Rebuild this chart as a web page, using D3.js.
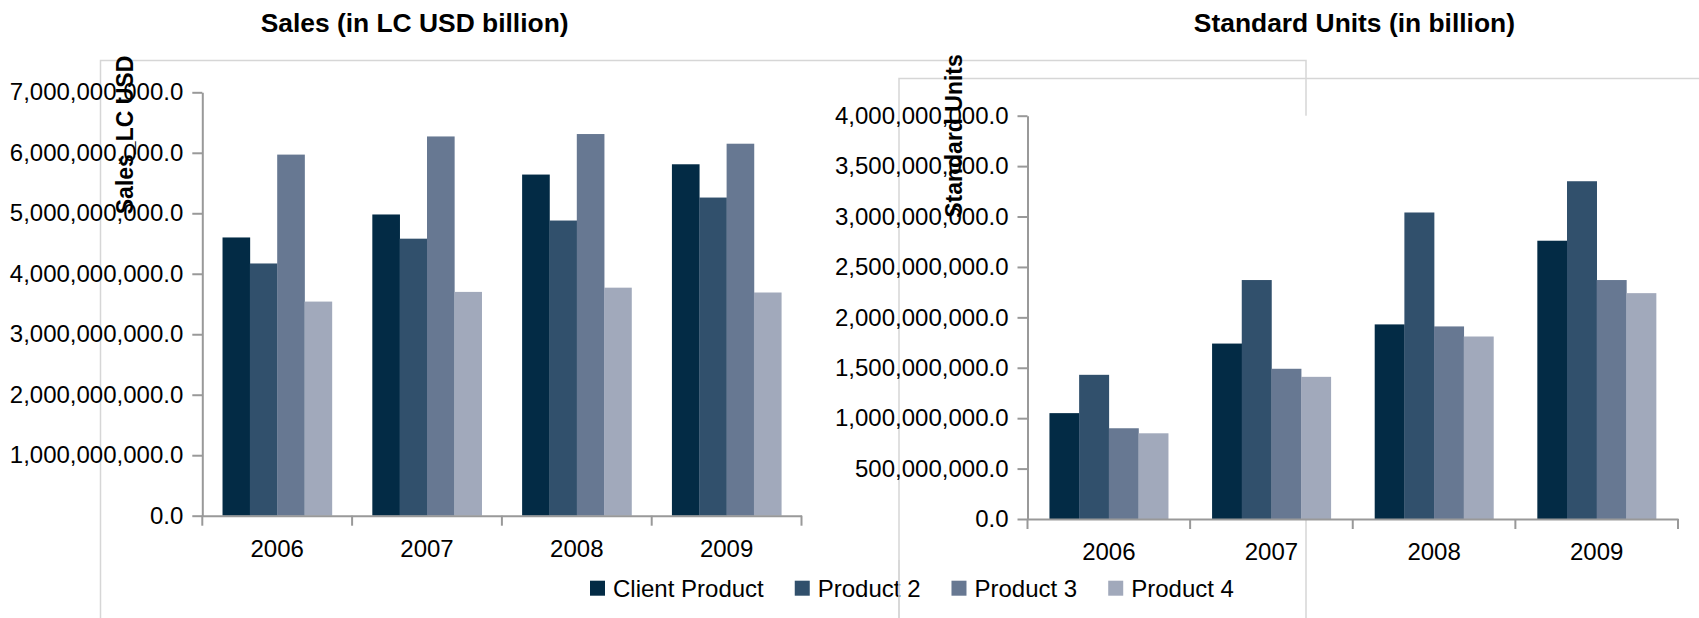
<!DOCTYPE html>
<html>
<head>
<meta charset="utf-8">
<script src="https://cdn.jsdelivr.net/npm/d3@7"></script>
<style>
  html, body { margin: 0; padding: 0; background: #fff; }
  svg { display: block; }
  text { font-family: "Liberation Sans", Arial, sans-serif; fill: #000; }
</style>
</head>
<body>
<svg id="chart" width="1699" height="618"></svg>
<script>
// ---------- data ----------
const years = ["2006", "2007", "2008", "2009"];
const seriesNames = ["Client Product", "Product 2", "Product 3", "Product 4"];
const seriesColors = ["#032b45", "#31506c", "#677892", "#a1a9bb"];

// Sales (LC USD)
const salesClient = [4.60e9, 4.98e9, 5.64e9, 5.81e9];
const salesP2     = [4.17e9, 4.58e9, 4.88e9, 5.26e9];
const salesP3     = [5.97e9, 6.27e9, 6.31e9, 6.15e9];
const salesP4     = [3.54e9, 3.70e9, 3.77e9, 3.69e9];
const salesTicks  = [0, 1e9, 2e9, 3e9, 4e9, 5e9, 6e9, 7e9];

// Standard Units
const unitsClient = [1.05e9, 1.74e9, 1.93e9, 2.76e9];
const unitsP2     = [1.43e9, 2.37e9, 3.04e9, 3.35e9];
const unitsP3     = [0.90e9, 1.49e9, 1.91e9, 2.37e9];
const unitsP4     = [0.85e9, 1.41e9, 1.81e9, 2.24e9];
const unitsTicks  = [0, 5e8, 1e9, 1.5e9, 2e9, 2.5e9, 3e9, 3.5e9, 4e9];

// ---------- drawing ----------
const svg = d3.select("#chart");
const fmt = d3.format(",.1f");
const AXIS = "#999999";
const BOX = "#d6d6d6";

// container boxes
svg.append("rect").attr("x", 100.5).attr("y", 60.5).attr("width", 1205.5).attr("height", 600)
  .attr("fill", "none").attr("stroke", BOX).attr("stroke-width", 1.5);
svg.append("rect").attr("x", 899).attr("y", 78.5).attr("width", 900).attr("height", 600)
  .attr("fill", "none").attr("stroke", BOX).attr("stroke-width", 1.5);

function drawChart(cfg) {
  const g = svg.append("g");
  const data = years.map((yr, i) => ({
    year: yr,
    values: cfg.series.map((s, j) => ({ name: seriesNames[j], value: s[i], idx: j }))
  }));

  const x0 = d3.scaleBand().domain(years).range([cfg.left, cfg.right])
    .paddingInner(0.27).paddingOuter(0.135);
  const x1 = d3.scaleBand().domain(seriesNames).range([0, x0.bandwidth()]).padding(0);
  const y = d3.scaleLinear().domain([0, cfg.max]).range([cfg.bottom, cfg.top]);

  // plot background
  g.append("rect").attr("x", cfg.left).attr("y", cfg.top)
    .attr("width", cfg.right - cfg.left).attr("height", cfg.bottom - cfg.top).attr("fill", "#fff");

  // title
  g.append("text").attr("x", cfg.titleX).attr("y", 32).attr("text-anchor", "middle")
    .style("font-size", "26.4px").style("font-weight", "bold").text(cfg.title);

  // bars
  g.selectAll("g.grp").data(data).join("g").attr("class", "grp")
    .attr("transform", d => `translate(${x0(d.year)},0)`)
    .selectAll("rect").data(d => d.values).join("rect")
    .attr("x", d => x1(d.name)).attr("width", x1.bandwidth() + 0.3)
    .attr("y", d => y(d.value)).attr("height", d => y(0) - y(d.value))
    .attr("fill", d => seriesColors[d.idx]);

  // y axis
  const ya = g.append("g").attr("transform", `translate(${cfg.left},0)`)
    .call(d3.axisLeft(y).tickValues(cfg.ticks).tickFormat(fmt).tickSize(10).tickSizeOuter(0).tickPadding(9));
  ya.selectAll("path,line").attr("stroke", AXIS).attr("stroke-width", 2);
  ya.selectAll("text").style("font-size", "24px").attr("fill", "#000")
    .style("font-family", '"Liberation Sans", Arial, sans-serif');

  // x axis labels (centered) and boundary ticks
  const xa = g.append("g").attr("transform", `translate(0,${cfg.bottom})`)
    .call(d3.axisBottom(x0).tickSize(0).tickPadding(24).tickSizeOuter(0));
  xa.select("path").attr("stroke", AXIS).attr("stroke-width", 2);
  xa.selectAll("text").style("font-size", "24px").attr("fill", "#000")
    .style("font-family", '"Liberation Sans", Arial, sans-serif');
  const bounds = years.map(yv => x0(yv) - x0.step() * x0.paddingInner() / 2);
  bounds.push(cfg.right);
  xa.selectAll("line.bt").data(bounds).join("line").attr("class", "bt")
    .attr("x1", d => d).attr("x2", d => d).attr("y1", 0).attr("y2", 10)
    .attr("stroke", AXIS).attr("stroke-width", 2);

  // y axis title
  g.append("text")
    .attr("transform", `translate(${cfg.yTitleX},${cfg.yTitleY}) rotate(-90)`)
    .attr("text-anchor", "middle").style("font-size", "23px").style("font-weight", "bold")
    .text(cfg.yTitle);
}

drawChart({
  title: "Sales (in LC USD billion)", titleX: 414.6,
  yTitle: "Sales_LC USD", yTitleX: 133, yTitleY: 135,
  left: 202.3, right: 801.5, top: 92.3, bottom: 515.7, max: 7e9, ticks: salesTicks,
  series: [salesClient, salesP2, salesP3, salesP4]
});

drawChart({
  title: "Standard Units (in billion)", titleX: 1354.4,
  yTitle: "Standard Units", yTitleX: 961.5, yTitleY: 136,
  left: 1027.5, right: 1678, top: 115.7, bottom: 519, max: 4e9, ticks: unitsTicks,
  series: [unitsClient, unitsP2, unitsP3, unitsP4]
});

// legend
const legend = svg.append("g");
let lx = 590;
seriesNames.forEach((name, i) => {
  legend.append("rect").attr("x", lx).attr("y", 580.7).attr("width", 15).attr("height", 15)
    .attr("fill", seriesColors[i]);
  const t = legend.append("text").attr("x", lx + 23).attr("y", 596.5)
    .style("font-size", "24px").text(name);
  lx = lx + 23 + t.node().getComputedTextLength() + 31;
});
// box line over legend (as in reference)
svg.append("line").attr("x1", 899).attr("x2", 899).attr("y1", 560).attr("y2", 618)
  .attr("stroke", BOX).attr("stroke-width", 1.5);
</script>
</body>
</html>
